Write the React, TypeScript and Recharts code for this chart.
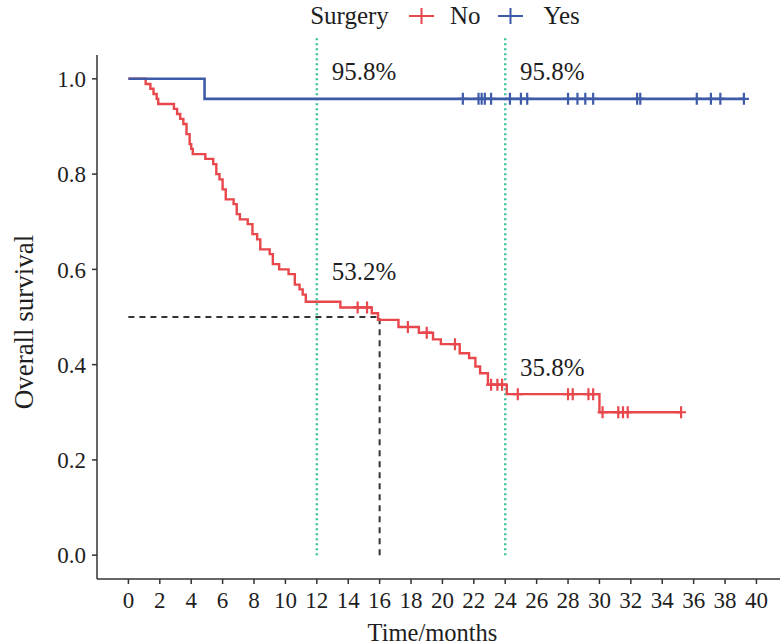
import React from 'react';
import { ComposedChart, Line, Scatter, XAxis, YAxis, ReferenceLine, ReferenceDot, Label } from 'recharts';

// "No" group: event times and survival after each step
const noTimes = [0, 1.1, 1.4, 1.6, 1.8, 1.9, 2.9, 3.1, 3.3, 3.5, 3.7, 3.9, 4.0, 4.1, 4.9, 5.4, 5.6, 5.8, 6.0, 6.2, 6.7, 6.9, 7.1, 7.6, 7.9, 8.2, 8.4, 9.0, 9.2, 9.6, 10.2, 10.6, 10.9, 11.1, 11.3, 13.5, 15.5, 15.9, 17.2, 18.5, 19.4, 19.9, 21.1, 21.7, 22.1, 22.4, 22.9, 24.1, 30.0];
const noSurv = [1.0, 0.989, 0.979, 0.968, 0.958, 0.947, 0.937, 0.926, 0.916, 0.905, 0.884, 0.863, 0.853, 0.842, 0.832, 0.821, 0.8, 0.789, 0.768, 0.747, 0.737, 0.716, 0.705, 0.695, 0.674, 0.663, 0.642, 0.632, 0.611, 0.6, 0.59, 0.568, 0.558, 0.547, 0.532, 0.52, 0.508, 0.494, 0.479, 0.467, 0.453, 0.443, 0.424, 0.414, 0.396, 0.382, 0.358, 0.338, 0.3];
const noCensor = [14.6, 15.2, 17.8, 19.0, 20.8, 23.1, 23.5, 23.8, 24.8, 28.0, 28.3, 29.3, 29.6, 30.2, 31.2, 31.5, 31.8, 35.2];

// "Yes" group
const yesTimes = [0, 4.85];
const yesSurv = [1.0, 0.958];
const yesCensor = [21.3, 22.3, 22.5, 22.7, 23.1, 24.3, 25.0, 25.4, 28.0, 28.6, 29.1, 29.6, 32.4, 32.6, 36.2, 37.1, 37.7, 39.2];

const xTicks = [0, 2, 4, 6, 8, 10, 12, 14, 16, 18, 20, 22, 24, 26, 28, 30, 32, 34, 36, 38, 40];
const yTicks = [0, 0.2, 0.4, 0.6, 0.8, 1.0];
const milestones = [12, 24];
const medianTime = 16;
const annotations = [
  { t: 15, s: 1.015, text: '95.8%' },
  { t: 27, s: 1.015, text: '95.8%' },
  { t: 15, s: 0.595, text: '53.2%' },
  { t: 27, s: 0.395, text: '35.8%' },
];

const RED = '#E8474C';
const BLUE = '#3E5BA8';
const GREEN = '#3FC29E';
const FONT = '"Liberation Serif", "Times New Roman", serif';
const TEXT = '#1e1e1e';

function survAt(times: number[], surv: number[], t: number) {
  let s = surv[0];
  for (let i = 0; i < times.length; i++) if (times[i] <= t) s = surv[i];
  return s;
}
function lineData(times: number[], surv: number[], censor: number[]) {
  const pts = times.map((t, i) => ({ t, s: surv[i] }));
  const end = Math.max(...censor);
  pts.push({ t: end, s: survAt(times, surv, end) });
  return pts;
}
function censorData(times: number[], surv: number[], censor: number[]) {
  return censor.map((t) => ({ t, s: survAt(times, surv, t) }));
}

const noLine = lineData(noTimes, noSurv, noCensor);
const yesLine = lineData(yesTimes, yesSurv, yesCensor);
const noCens = censorData(noTimes, noSurv, noCensor);
const yesCens = censorData(yesTimes, yesSurv, yesCensor);

const plus = (color: string) => (props: any) => {
  const { cx, cy } = props;
  return <path d={`M${cx - 5},${cy}h10M${cx},${cy - 6}v12`} stroke={color} strokeWidth={2.2} fill="none" />;
};

const XTitle = (props: any) => {
  const vb = props.viewBox;
  return (
    <text x={vb.x + vb.width / 2 - 6} y={vb.y + 53} textAnchor="middle" dominantBaseline="central" fontFamily={FONT} fontSize={24.5} fill={TEXT}>
      Time/months
    </text>
  );
};
const YTitle = (props: any) => {
  const vb = props.viewBox;
  const x = vb.x + 24;
  const y = vb.y + vb.height / 2 + 5;
  return (
    <text x={x} y={y} transform={`rotate(-90 ${x} ${y})`} textAnchor="middle" dominantBaseline="central" fontFamily={FONT} fontSize={27} fill={TEXT}>
      Overall survival
    </text>
  );
};

const AnnText = (text: string) => (props: any) => {
  const vb = props.viewBox;
  return (
    <text x={vb.x} y={vb.y} textAnchor="middle" dominantBaseline="central" fontFamily={FONT} fontSize={25} fill={TEXT}>
      {text}
    </text>
  );
};

const LegendPlus = ({ color }: { color: string }) => (
  <svg width={25} height={22} style={{ display: 'block' }}>
    <path d="M0,11h25M12.5,3v16" stroke={color} strokeWidth={2} />
  </svg>
);

export default function App() {
  return (
    <div style={{ position: 'absolute', left: 0, top: 0, width: 781, height: 644, background: '#fff', overflow: 'hidden' }}>
      <div style={{ position: 'absolute', left: 0, top: 0, width: 890, height: 32, display: 'flex', alignItems: 'center', justifyContent: 'center', fontFamily: FONT, fontSize: 25, color: TEXT, whiteSpace: 'nowrap' }}>
        <span style={{ marginRight: 20 }}>Surgery</span>
        <LegendPlus color={RED} />
        <span style={{ marginLeft: 16, marginRight: 18 }}>No</span>
        <LegendPlus color={BLUE} />
        <span style={{ marginLeft: 20 }}>Yes</span>
      </div>
      <ComposedChart width={781} height={644} margin={{ top: 55, right: 1, left: 0, bottom: 0 }}>
        <XAxis
          type="number"
          dataKey="t"
          domain={[-2, 41.5]}
          ticks={xTicks}
          allowDataOverflow
          height={65}
          tickSize={5}
          tickMargin={8}
          interval={0}
          stroke="#333"
          strokeWidth={1.5}
          tick={{ fontFamily: FONT, fontSize: 23, fill: TEXT }}
        >
          <Label content={XTitle} />
        </XAxis>
        <YAxis
          type="number"
          dataKey="s"
          domain={[-0.05, 1.05]}
          ticks={yTicks}
          allowDataOverflow
          width={97}
          tickSize={5}
          tickMargin={6}
          interval={0}
          stroke="#333"
          strokeWidth={1.5}
          tickFormatter={(v: number) => v.toFixed(1)}
          tick={{ fontFamily: FONT, fontSize: 23, fill: TEXT }}
        >
          <Label content={YTitle} />
        </YAxis>
        {milestones.map((m) => (
          <ReferenceLine key={m} segment={[{ x: m, y: 0 }, { x: m, y: 1.085 }]} stroke={GREEN} strokeWidth={2.5} strokeDasharray="2 3" ifOverflow="visible" />
        ))}
        <ReferenceLine segment={[{ x: 0, y: 0.5 }, { x: medianTime, y: 0.5 }]} stroke="#333" strokeWidth={2} strokeDasharray="6 5" />
        <ReferenceLine segment={[{ x: medianTime, y: 0 }, { x: medianTime, y: 0.5 }]} stroke="#333" strokeWidth={2} strokeDasharray="6 5" />
        <Line data={noLine} dataKey="s" type="stepAfter" stroke={RED} strokeWidth={2.4} dot={false} isAnimationActive={false} />
        <Line data={yesLine} dataKey="s" type="stepAfter" stroke={BLUE} strokeWidth={2.6} dot={false} isAnimationActive={false} />
        <Scatter data={noCens} dataKey="s" shape={plus(RED)} isAnimationActive={false} />
        <Scatter data={yesCens} dataKey="s" shape={plus(BLUE)} isAnimationActive={false} />
        {annotations.map((a, i) => (
          <ReferenceDot key={i} x={a.t} y={a.s} r={0} fill="none" stroke="none" ifOverflow="visible" label={AnnText(a.text)} />
        ))}
      </ComposedChart>
    </div>
  );
}
